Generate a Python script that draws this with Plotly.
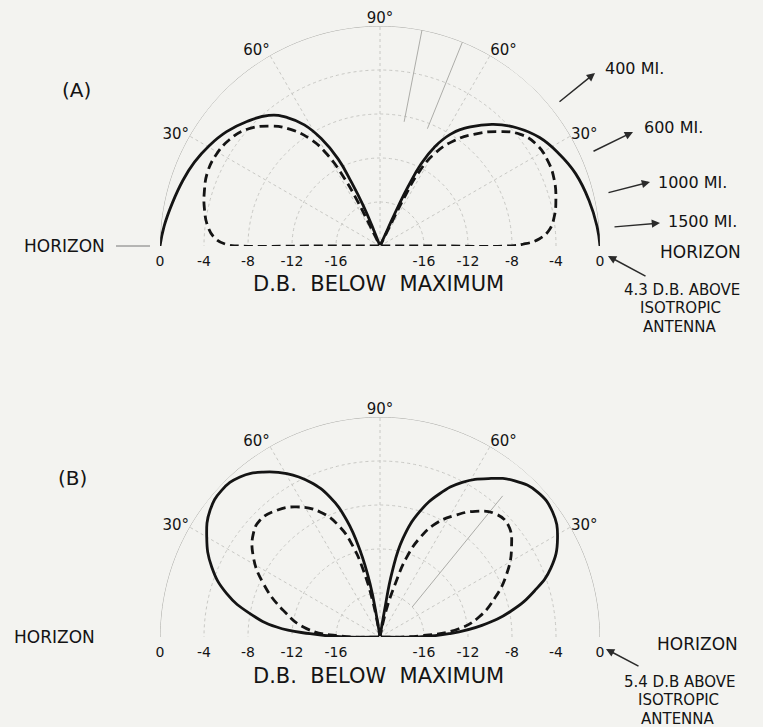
import plotly.graph_objects as go

# ---- radiation pattern data (elevation angle in degrees, level in dB below maximum) ----
# Pattern (A)
a_solid_left_elev = [0, 5.2, 11.8, 18.3, 24.3, 30.6, 36.7, 43.1, 49.6, 54.2, 58, 61.3, 64.3, 65.9, 67.5, 68.5, 69]
a_solid_left_db = [0, -0.29, -0.73, -1.11, -1.49, -2.01, -2.61, -3.44, -4.41, -5.60, -7.02, -8.87,
                   -11.21, -13.67, -16.08, -18.41, -19.9]
a_solid_right_elev = [0, 5.2, 12.4, 20.3, 27.2, 34.2, 40.9, 47, 52.8, 57.7, 61.2, 63.4, 64.7, 65.4, 65.6, 66]
a_solid_right_db = [0, -0.19, -0.56, -1.04, -1.69, -2.46, -3.58, -4.88, -6.41, -7.97, -9.77, -11.64,
                    -14.04, -16.05, -18.3, -19.9]
a_dash_left_elev = [0, 0, 0, 0.6, 2.9, 6.7, 12, 17.1, 23.3, 29.1, 35.3, 41.1, 47.5, 52.5, 57, 60.1, 62.3,
                    63.4, 63.6, 64]
a_dash_left_db = [-19.9, -13.5, -7.28, -6.02, -4.93, -4.22, -3.68, -3.29, -2.94, -2.95, -3.25, -3.89,
                  -5.22, -6.64, -8.45, -10.43, -13.06, -15.54, -17.94, -19.9]
a_dash_right_elev = [0, 0, 0, 0.7, 2.6, 5.5, 9.6, 14.7, 20.7, 27, 33.1, 38.7, 44.4, 50, 54.9, 59.5, 62.4,
                     63.4, 63.6, 64]
a_dash_right_db = [-19.9, -14.0, -8.49, -7.0, -5.48, -4.53, -3.93, -3.47, -3.06, -2.89, -3.05, -3.73,
                   -5.14, -6.74, -8.30, -10.29, -12.58, -14.99, -17.3, -19.9]

# Pattern (B)
b_solid_left_elev = [0, 0, 2.7, 5.5, 10.2, 15.8, 22.6, 30, 36.7, 42.8, 48.8, 54.7, 60.3, 65.7, 70.3, 74.1,
                     77, 79.4, 80.6, 81]
b_solid_left_db = [-19.9, -16.66, -13.63, -10.56, -7.99, -5.52, -3.43, -1.81, -0.73, -0.38, -0.67, -1.63,
                   -2.90, -4.54, -6.48, -8.96, -11.91, -15.07, -18.15, -19.9]
b_solid_right_elev = [0, 0, 2.7, 6.5, 11.3, 16.6, 22, 29.1, 35.9, 42.5, 49.2, 55.6, 62, 67.5, 72.5, 76.9,
                      79.4, 80.4, 81]
b_solid_right_db = [-19.9, -16.72, -13.71, -10.67, -7.81, -5.35, -3.24, -1.53, -0.63, -0.53, -1.24, -2.54,
                    -4.08, -5.93, -8.08, -10.79, -13.93, -17.56, -19.9]
b_dash_left_elev = [0, 1.5, 6.5, 15.4, 24.6, 32.3, 39.2, 44.2, 50.8, 57.3, 64.4, 70, 73.5, 76, 78.7, 79.5]
b_dash_left_db = [-19.9, -16.5, -13.28, -10.88, -8.34, -6.38, -5.14, -4.78, -5.14, -5.95, -7.39, -9.36,
                  -11.46, -13.75, -16.9, -19.9]
b_dash_right_elev = [0, 1.5, 6, 11.3, 18.9, 26.3, 34, 41.1, 47, 52.8, 58.2, 63.8, 68.2, 71.6, 74, 77, 79]
b_dash_right_db = [-19.9, -16.5, -12.79, -10.85, -8.94, -7.17, -5.58, -4.53, -4.67, -5.66, -6.98, -8.50,
                   -10.34, -12.44, -14.99, -17.5, -19.9]

# ---- axis labelling ----
db_ticks = [0, -4, -8, -12, -16]
db_tick_text = ["0", "-4", "-8", "-12", "-16"]
angle_ticks = [30, 60, 90, 120, 150]
angle_tick_text = ["30°", "60°", "90°", "60°", "30°"]

# distances whose take-off angles are marked with arrows in (A)
distance_labels = ["400 MI.", "600 MI.", "1000 MI.", "1500 MI."]

W, H = 763, 727
INK = "#141414"
GRID = "#c8c8c4"
PAPER = "#f3f3f0"
FONT = "DejaVu Sans"


def fx(x):
    return x / W


def fy(y):
    return 1 - y / H


fig = go.Figure()


def lobe(subplot, elev, db, side, dashed):
    theta = [180 - e for e in elev] if side == "left" else list(elev)
    fig.add_trace(go.Scatterpolar(
        r=db, theta=theta, mode="lines", subplot=subplot,
        line=dict(color=INK, width=2.8, shape="spline", smoothing=1.3,
                  dash="9px,5px" if dashed else "solid"),
        hoverinfo="skip", showlegend=False, cliponaxis=False))


# outer 0 dB arc (drawn as a trace so the horizon itself stays unruled)
arc_theta = list(range(0, 181))
for sp in ("polar", "polar2"):
    fig.add_trace(go.Scatterpolar(r=[0] * len(arc_theta), theta=arc_theta, mode="lines", subplot=sp,
                                  line=dict(color="#a6a6a2", width=1), hoverinfo="skip",
                                  showlegend=False, cliponaxis=False))

# faint construction lines
for th in (68, 79):
    fig.add_trace(go.Scatterpolar(r=[-8.5, 0], theta=[th, th], mode="lines", subplot="polar",
                                  line=dict(color="#acaca8", width=1), hoverinfo="skip",
                                  showlegend=False))
fig.add_trace(go.Scatterpolar(r=[-16, -3], theta=[43, 49], mode="lines", subplot="polar2",
                              line=dict(color="#acaca8", width=1), hoverinfo="skip",
                              showlegend=False))

for sp, sets in [
    ("polar", [(a_solid_left_elev, a_solid_left_db, "left", False),
               (a_solid_right_elev, a_solid_right_db, "right", False),
               (a_dash_left_elev, a_dash_left_db, "left", True),
               (a_dash_right_elev, a_dash_right_db, "right", True)]),
    ("polar2", [(b_solid_left_elev, b_solid_left_db, "left", False),
                (b_solid_right_elev, b_solid_right_db, "right", False),
                (b_dash_left_elev, b_dash_left_db, "left", True),
                (b_dash_right_elev, b_dash_right_db, "right", True)]),
]:
    for elev, db, side, dashed in sets:
        lobe(sp, elev, db, side, dashed)

    # dB scale printed along the horizon on both sides; the invisible marker
    # pushes each label a little below the baseline
    for th in (0, 180):
        fig.add_trace(go.Scatterpolar(
            r=db_ticks, theta=[th] * len(db_ticks), mode="markers+text", subplot=sp,
            marker=dict(size=14, color="rgba(0,0,0,0)"),
            text=db_tick_text, textposition="bottom center",
            textfont=dict(family=FONT, size=14, color=INK),
            hoverinfo="skip", showlegend=False, cliponaxis=False))


def polar_layout(y0, y1):
    return dict(
        domain=dict(x=[fx(160), fx(600)], y=[fy(y1), fy(y0)]),
        sector=[0, 180],
        bgcolor="rgba(0,0,0,0)",
        radialaxis=dict(range=[-20, 0], tickvals=[-16, -12, -8, -4], showticklabels=False,
                        ticks="", showline=False, gridcolor=GRID, griddash="dot", gridwidth=1),
        angularaxis=dict(tickvals=angle_ticks, ticktext=angle_tick_text, ticks="",
                         direction="counterclockwise", rotation=0, showline=False,
                         gridcolor=GRID, griddash="dot", gridwidth=1,
                         tickfont=dict(family=FONT, size=15, color=INK)),
    )


ann = []


def text(x, y, s, size=14):
    ann.append(dict(x=fx(x), y=fy(y), xref="paper", yref="paper", text=s, showarrow=False,
                    xanchor="center", yanchor="middle",
                    font=dict(family=FONT, size=size, color=INK)))


def arrow(x_tail, y_tail, x_head, y_head):
    ann.append(dict(x=fx(x_head), y=fy(y_head), xref="paper", yref="paper",
                    ax=x_tail - x_head, ay=y_tail - y_head, axref="pixel", ayref="pixel",
                    text="", showarrow=True, arrowhead=2, arrowsize=1.1, arrowwidth=1.5,
                    arrowcolor="#2a2a2a"))


# panel (A)
text(76, 90, "(A)", 20)
text(64, 246, "HORIZON", 17)
text(700, 252, "HORIZON", 17)
text(378, 284, "D.B.  BELOW  MAXIMUM", 21)
text(682, 290, "4.3 D.B. ABOVE", 15)
text(680, 308, "ISOTROPIC", 15)
text(680, 327, "ANTENNA", 15)
arrow(647, 277, 608, 256)
for (lx, ly), s, (tx, ty, hx, hy) in zip(
        [(634, 68), (673, 128), (692, 183), (702, 222)], distance_labels,
        [(558, 103, 595, 73), (592, 152, 633, 132), (607, 193, 650, 182), (613, 227, 660, 223)]):
    text(lx, ly, s, 16)
    arrow(tx, ty, hx, hy)

# panel (B)
text(72, 478, "(B)", 20)
text(55, 637, "HORIZON", 17)
text(697, 644, "HORIZON", 17)
text(378, 676, "D.B.  BELOW  MAXIMUM", 21)
text(680, 682, "5.4 D.B ABOVE", 15)
text(678, 700, "ISOTROPIC", 15)
text(678, 719, "ANTENNA", 15)
arrow(640, 667, 606, 649)

fig.update_layout(
    width=W, height=H,
    margin=dict(l=0, r=0, t=0, b=0),
    paper_bgcolor=PAPER, plot_bgcolor=PAPER,
    polar=polar_layout(26, 246),
    polar2=polar_layout(417, 637),
    annotations=ann,
    shapes=[dict(type="line", xref="paper", yref="paper", x0=fx(116), x1=fx(150),
                 y0=fy(246), y1=fy(246), line=dict(color="#777", width=1))],
    showlegend=False,
)

fig.write_html("out.html")
